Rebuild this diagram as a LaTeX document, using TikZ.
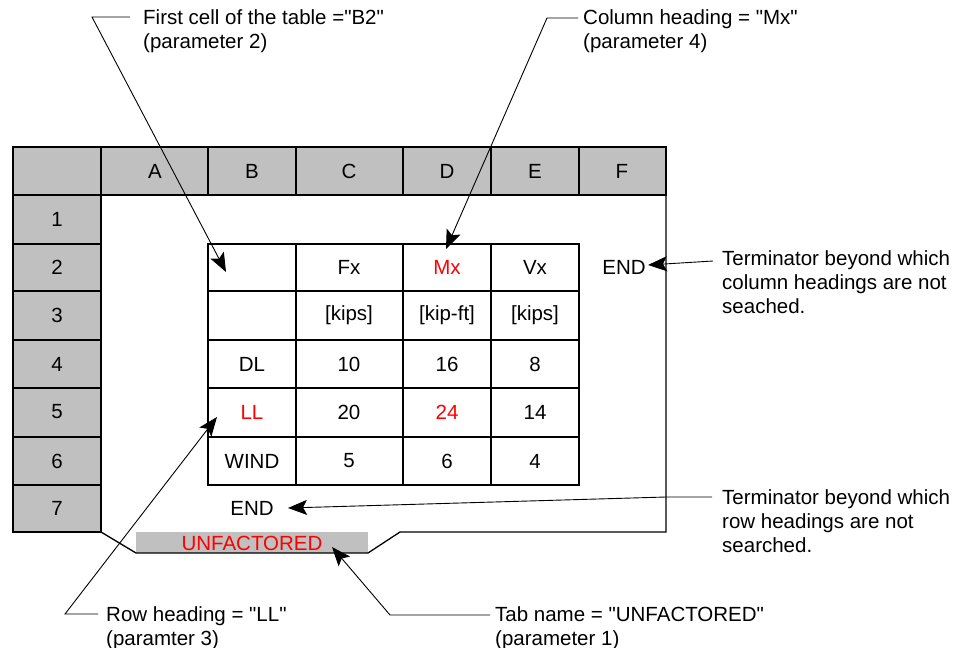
\documentclass[tikz,border=0pt]{standalone}
\usepackage{fontspec}
\setmainfont{Liberation Sans}
\usetikzlibrary{arrows.meta}
\definecolor{hdr}{HTML}{C0C0C0}
\definecolor{xred}{HTML}{FF0000}
\newcommand{\dq}{\XeTeXglyph\XeTeXglyphindex "quotedbl" }
\begin{document}
\begin{tikzpicture}[x=1pt,y=-1pt,
  txt/.style={font=\fontsize{20.5}{24}\selectfont, inner sep=0pt},
  callout/.style={txt, anchor=west, align=left},
  gridline/.style={draw=black, line width=1.3pt},
  hcell/.style={gridline, fill=hdr},
  lead/.style={draw=black, line width=0.9pt},
  tipend/.style={-{Stealth[length=19pt,width=15pt,inset=4pt]}},
]
\useasboundingbox (0,0) rectangle (962,648);
\fill[white] (0,0) rectangle (962,648);

% column header row
\foreach \a/\b in {13/101,101/208,208/296,296/403,403/491,491/579,579/666}
  \draw[hcell] (\a,147) rectangle (\b,195);
% row header column
\foreach \a/\b in {195/244,244/291,291/340,340/388,388/437,437/485,485/532}
  \draw[hcell] (13,\a) rectangle (101,\b);

% sheet outline and tab
\fill[hdr] (136,532) rectangle (368,553);
\draw[gridline] (666,195) -- (666,532) -- (400,532) -- (368,553) -- (136,553) -- (101,532);

% table
\draw[gridline] (208,244) rectangle (579,485);
\foreach \x in {296,403,491} \draw[gridline] (\x,244) -- (\x,485);
\foreach \y in {291,340,388,437} \draw[gridline] (208,\y) -- (579,\y);

% header labels
\node[txt] (hA) at (155,171) {A};
\node[txt] (hB) at (252,171) {B};
\node[txt] (hC) at (349,171) {C};
\node[txt] (hD) at (447,171) {D};
\node[txt] (hE) at (535,171) {E};
\node[txt] (hF) at (622,171) {F};
\node[txt] (r1) at (57,219) {1};
\node[txt] (r2) at (57,267) {2};
\node[txt] (r3) at (57,315) {3};
\node[txt] (r4) at (57,364) {4};
\node[txt] (r5) at (57,412) {5};
\node[txt] (r6) at (57,461) {6};
\node[txt] (r7) at (57,508) {7};

% table contents
\node[txt] (c12) at (349,267) {Fx};
\node[txt,text=xred] (c13) at (447,267) {Mx};
\node[txt] (c14) at (535,267) {Vx};
\node[txt] (c22) at (349,315) {[kips]};
\node[txt] (c23) at (447,315) {[kip-ft]};
\node[txt] (c24) at (535,315) {[kips]};
\node[txt] (c31) at (252,364) {DL};
\node[txt] (c32) at (349,364) {10};
\node[txt] (c33) at (447,364) {16};
\node[txt] (c34) at (535,364) {8};
\node[txt,text=xred] (c41) at (252,412) {LL};
\node[txt] (c42) at (349,412) {20};
\node[txt,text=xred] (c43) at (447,412) {24};
\node[txt] (c44) at (535,412) {14};
\node[txt] (c51) at (252,461) {WIND};
\node[txt] (c52) at (349,461) {5};
\node[txt] (c53) at (447,461) {6};
\node[txt] (c54) at (535,461) {4};

\node[txt] (endC) at (624,267) {END};
\node[txt] (endR) at (252,508) {END};
\node[txt,text=xred] (tab) at (252,543) {UNFACTORED};

% callouts
\node[callout] (t1) at (143,31) {First cell of the table =\dq B2\dq\\(parameter 2)};
\node[callout] (t2) at (583,31) {Column heading = \dq Mx\dq\\(parameter 4)};
\node[callout] (t3) at (722,282) {Terminator beyond which\\column headings are not\\seached.};
\node[callout] (t4) at (722,521) {Terminator beyond which\\row headings are not\\searched.};
\node[callout] (t5) at (106,628) {Row heading = \dq LL\dq\\(paramter 3)};
\node[callout] (t6) at (495,628) {Tab name = \dq UNFACTORED\dq\\(parameter 1)};

% connector points
\coordinate (s1) at (130,17); \coordinate (k1) at (92,17); \coordinate (a1) at (226,272);
\coordinate (s2) at (578,18); \coordinate (k2) at (547,18); \coordinate (a2) at (446,249);
\coordinate (s3) at (713,261); \coordinate (a3) at (648,265);
\coordinate (s4) at (712,497); \coordinate (k4) at (666,497); \coordinate (a4) at (288,508);
\coordinate (s5) at (98,614); \coordinate (k5) at (65,614); \coordinate (a5) at (217,417);
\coordinate (s6) at (490,615); \coordinate (k6) at (390,615); \coordinate (a6) at (332,547);

\draw[lead,tipend] (s1) -- (k1) -- (a1);
\draw[lead,tipend] (s2) -- (k2) -- (a2);
\draw[lead,tipend] (s3) -- (a3);
\draw[lead,tipend] (s4) -- (k4) -- (a4);
\draw[lead,tipend] (s5) -- (k5) -- (a5);
\draw[lead,tipend] (s6) -- (k6) -- (a6);
\end{tikzpicture}
\end{document}
